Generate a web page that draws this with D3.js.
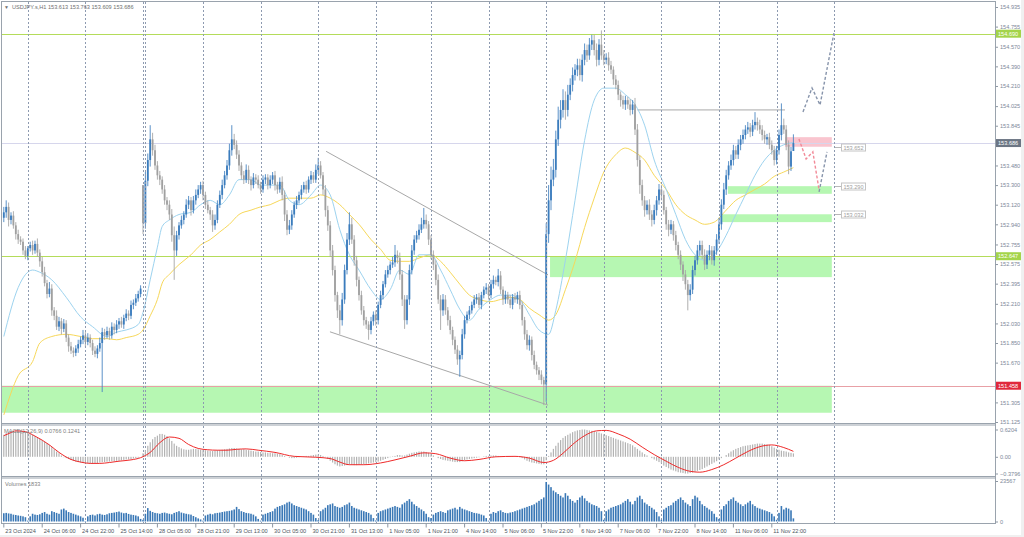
<!DOCTYPE html>
<html><head><meta charset="utf-8">
<script src="https://cdn.jsdelivr.net/npm/d3@7"></script>
<style>body{margin:0;background:#f0f0f0}svg{display:block}text{font-family:"Liberation Sans",Arial,sans-serif}</style>
</head><body><svg id="c" width="1024" height="537"></svg>
<script>
// ---------------- DATA ----------------
const closes = [
153.05,153.10,152.98,153.02,152.93,152.85,152.80,152.78,152.70,152.65,
152.72,152.75,152.70,152.76,152.68,152.60,152.50,152.40,152.30,152.35,
152.15,152.10,152.00,152.05,151.98,152.03,151.90,151.82,151.78,151.76,
151.80,151.84,151.88,151.92,151.86,151.90,151.85,151.78,151.75,151.80,
151.85,151.95,151.92,151.96,151.92,152.00,151.97,152.02,152.05,152.02,
152.08,152.12,152.10,152.20,152.22,152.26,152.30,152.35,152.95,153.34,
153.53,153.72,153.62,153.48,153.39,153.35,153.26,153.16,153.12,153.03,
152.84,152.70,152.84,152.93,152.98,153.03,153.12,153.16,153.07,153.16,
153.21,153.26,153.30,153.21,153.12,153.07,153.03,152.93,152.98,153.12,
153.21,153.30,153.39,153.48,153.62,153.72,153.67,153.58,153.48,153.39,
153.35,153.44,153.35,153.30,153.37,153.35,153.30,153.26,153.35,153.37,
153.30,153.35,153.39,153.30,153.26,153.33,153.21,153.03,152.89,152.93,
153.03,153.12,153.16,153.21,153.26,153.30,153.26,153.35,153.39,153.35,
153.44,153.48,153.39,153.26,153.07,152.93,152.70,152.52,152.29,152.15,
152.06,152.25,152.52,152.80,152.94,152.80,152.61,152.43,152.29,152.15,
152.06,152.02,151.97,152.05,152.11,152.06,152.20,152.29,152.39,152.48,
152.52,152.57,152.59,152.66,152.63,152.48,152.25,152.06,152.25,152.52,
152.70,152.80,152.84,152.89,152.94,152.98,152.94,152.80,152.66,152.57,
152.43,152.25,152.15,152.25,152.15,152.06,151.97,151.88,151.79,151.70,
151.74,151.93,152.06,152.11,152.15,152.20,152.25,152.27,152.20,152.29,
152.34,152.36,152.29,152.39,152.43,152.41,152.47,152.34,152.25,152.29,
152.25,152.20,152.27,152.25,152.29,152.20,152.06,151.93,151.83,151.88,
151.74,151.65,151.60,151.56,151.51,151.47,152.85,153.16,153.35,153.44,
153.72,153.90,153.99,154.08,153.99,154.13,154.22,154.31,154.36,154.40,
154.31,154.45,154.54,154.49,154.59,154.63,154.54,154.45,154.59,154.49,
154.45,154.47,154.40,154.36,154.27,154.22,154.13,154.08,154.04,154.08,
154.04,153.99,154.04,153.81,153.53,153.30,153.16,153.07,153.12,153.03,
152.98,153.07,153.16,153.26,153.21,153.07,152.94,152.89,152.94,152.84,
152.75,152.66,152.57,152.48,152.39,152.29,152.34,152.52,152.61,152.70,
152.75,152.66,152.57,152.66,152.70,152.61,152.70,152.80,152.94,153.12,
153.26,153.39,153.48,153.53,153.62,153.58,153.67,153.72,153.76,153.81,
153.83,153.79,153.85,153.88,153.85,153.81,153.76,153.72,153.74,153.67,
153.62,153.53,153.62,153.76,153.85,153.81,153.67,153.47,153.61,153.686];
// opens that differ from the previous close: [bar, open]
const gapOpens = [[0,153.00],[58,153.30],[329,153.613]];
// upper / lower shadow lengths in hundredths of a yen
const upWick = [
5,6,4,3,4,3,4,3,3,4, 2,3,4,3,5,3,4,5,3,6, 4,3,5,4,3,4,3,3,4,3, 3,4,3,5,3,4,3,3,4,3,
5,4,3,4,3,4,3,4,3,4, 3,4,3,4,3,4,3,3,0,8, 6,13,6,5,4,4,3,4,3,4, 5,8,4,3,4,3,5,4,3,4,
5,4,3,4,3,4,3,4,5,4, 4,5,4,5,6,13,5,4,4,3, 4,5,4,3,4,3,4,3,4,3, 3,4,3,4,3,4,5,4,4,5,
4,3,4,3,4,3,4,3,4,3, 5,7,4,3,4,4,4,5,4,3, 5,6,5,6,11,6,4,4,3,4, 4,3,3,4,3,4,3,4,3,4,
4,3,5,9,4,5,4,4,4,5, 5,4,4,5,6,11,5,3,4,4, 4,5,4,5,4,3,4,3,3,4, 4,5,4,3,4,3,4,3,4,3,
3,4,3,4,4,3,6,4,3,4, 3,4,3,4,3,4,3,3,4,4, 3,4,3,3,4,3,10,14,12,10, 8,12,9,10,8,9,6,7,5,6,
6,5,6,5,6,5,5,6,5,13, 5,4,5,4,3,4,4,3,4,4, 3,5,4,6,5,4,5,4,4,5, 4,5,4,5,4,4,3,4,4,3,
4,3,4,3,4,4,5,4,4,5, 4,4,5,4,5,4,4,5,6,5, 6,5,4,5,5,4,5,4,5,4, 5,4,5,9,4,5,4,4,3,4,
4,4,4,5,20,6,4,4,4,8];
const dnWick = [
4,5,6,4,3,5,4,3,4,3, 4,3,4,3,4,5,4,3,4,3, 5,4,3,4,5,3,4,5,3,4, 3,4,3,4,5,3,4,4,3,4,
3,45,4,3,4,3,4,3,4,3, 4,3,4,3,4,3,3,3,10,5, 5,6,5,4,4,5,4,4,5,5, 6,27,5,4,3,4,3,4,5,3,
4,3,4,5,4,3,5,6,4,3, 3,4,3,4,4,5,4,4,5,4, 4,3,4,5,3,4,3,4,3,4, 4,3,4,5,4,3,5,6,5,4,
4,3,4,3,4,3,4,3,4,3, 3,4,3,5,6,5,6,5,6,7, 13,5,4,4,5,4,5,6,5,4, 5,4,9,4,4,5,4,3,4,3,
3,4,3,4,5,5,6,8,4,5, 4,4,3,4,3,4,4,5,4,5, 5,4,18,5,4,5,4,5,4,5, 16,4,4,3,4,3,3,4,3,4,
3,4,4,3,4,3,4,4,5,4, 4,3,4,3,4,4,5,5,4,5, 5,4,4,5,4,19,16,8,9,6, 7,6,8,7,9,6,5,6,5,6,
5,6,5,6,4,5,5,6,5,4, 5,4,5,4,5,4,5,6,4,5, 4,5,4,5,6,8,5,6,4,5, 6,4,5,4,5,4,5,6,4,5,
5,4,5,6,5,14,5,4,5,4, 5,4,5,4,5,4,5,4,4,5, 4,5,4,4,5,4,4,5,4,4, 4,5,4,4,5,4,5,4,5,4,
4,5,4,4,5,4,5,7,4,0];
const volumes = [
4800,5000,4700,4500,4000,3800,3500,3300,3000,2500,
500,3000,4500,4000,3800,4200,5000,5500,4500,4000,6000,5500,5000,4500,7000,7500,6500,5500,5000,4500,4000,3500,3000,2200,
300,3000,3800,4000,3500,4200,4500,4000,3800,4200,4800,5000,5200,5500,5800,5200,4800,5000,4400,4000,3800,3500,3000,1500,
1000,
4500,7800,6200,5500,5000,4800,4500,5000,5200,4800,4500,4200,5000,5500,6000,5200,4800,4500,4200,4000,3200,2500,1800,1200,
500,3500,4000,4500,4200,4800,5000,5200,5500,5800,6000,6200,6500,7000,8500,7200,6000,5500,5000,4800,4500,4000,3000,1500,
500,4000,4500,5000,5500,6000,7500,8500,9000,9500,10000,11000,11500,10500,9500,9000,8500,8000,7500,7000,6000,5000,4000,2000,
800,6000,7000,8000,9500,10000,10500,9000,8500,8000,8500,9500,10000,11000,9000,8000,7500,7000,6500,6000,5500,5000,4000,2000,
600,5000,6000,6500,7000,7500,8000,8500,9000,8500,8000,10000,11000,12000,13000,11500,10000,9000,8000,7000,6000,4500,2500,
2000,4000,5000,5500,6000,5500,5000,6500,7000,7500,8000,7000,8500,7500,7000,6500,6000,5500,5000,4800,4500,4000,3500,2000,
500,4500,5500,5000,6000,6500,5500,5000,4800,5200,5500,6000,6500,7000,7500,8000,8500,9000,9500,10000,11000,12000,13000,14000,
23000,21500,20000,18000,17000,16000,15000,14000,16500,15000,13000,12000,11000,12500,14000,15000,13500,12000,11000,10000,9500,9000,8000,6000,
1000,6000,7000,8000,8500,9000,9500,10000,11000,12000,13000,11500,10000,12000,14000,15000,13000,11000,10000,9000,8000,7000,5500,3000,
1000,7000,8000,9000,9500,11000,12000,13000,14000,12500,11000,10000,9000,13000,15000,14000,12000,10000,9000,8000,7000,6000,4500,2500,
1500,7000,9000,10000,12000,13000,14000,12000,11000,10000,9000,10000,11000,12000,10000,9000,8000,7500,7000,6500,6000,5500,4500,3000,
1000,5000,9000,7000,8000,7500,6500,1833];
const macdMain = [
.50,.54,.57,.58,.59,.60,.60,.59,.58,.57,.55,.52,.50,.47,.44,.41,.38,.34,.31,.27,
.22,.17,.12,.08,.03,-.01,-.03,-.05,-.07,-.09,-.11,-.12,-.13,-.14,-.14,-.14,-.15,-.15,-.14,-.14,
-.13,-.12,-.12,-.11,-.11,-.10,-.10,-.09,-.09,-.08,-.07,-.06,-.06,-.05,-.04,-.03,-.02,0,.08,.15,
.25,.33,.40,.45,.48,.52,.52,.50,.47,.42,.36,.30,.25,.22,.19,.17,.16,.16,.17,.18,
.18,.17,.16,.15,.15,.14,.13,.13,.14,.15,.15,.16,.17,.18,.19,.20,.20,.19,.18,.17,
.17,.16,.15,.14,.13,.12,.12,.11,.10,.10,.09,.09,.08,.08,.07,.06,.04,.02,0,-.02,
-.03,-.03,-.02,-.01,0,.01,.02,.02,.03,.04,.05,.05,.04,.02,-.01,-.05,-.09,-.13,-.17,-.20,
-.22,-.21,-.20,-.19,-.18,-.18,-.19,-.19,-.18,-.17,-.17,-.16,-.15,-.14,-.13,-.12,-.11,-.09,-.07,-.05,
-.03,-.01,.01,.02,.04,.04,.03,.03,.05,.07,.09,.10,.11,.12,.12,.12,.11,.09,.06,.03,
0,-.03,-.05,-.07,-.08,-.09,-.10,-.11,-.12,-.12,-.12,-.10,-.08,-.06,-.05,-.04,-.03,-.02,-.01,0,
.01,.02,.02,.03,.03,.03,.02,.01,.01,.01,.01,.01,.01,0,0,-.01,-.03,-.06,-.09,-.11,
-.13,-.14,-.15,-.16,-.17,-.17,-.08,.02,.10,.18,.25,.32,.38,.43,.47,.50,.53,.56,.58,.60,
.61,.62,.62,.61,.60,.59,.58,.57,.55,.53,.51,.49,.47,.45,.43,.41,.39,.37,.35,.33,
.31,.29,.26,.22,.18,.14,.10,.06,.03,0,-.03,-.06,-.09,-.12,-.15,-.20,-.23,-.26,-.29,-.31,
-.33,-.35,-.36,-.37,-.38,-.38,-.37,-.36,-.34,-.32,-.30,-.28,-.25,-.22,-.19,-.16,-.13,-.10,-.06,-.03,
0,.04,.08,.12,.15,.18,.20,.22,.24,.25,.26,.27,.28,.29,.30,.30,.30,.29,.28,.27,
.24,.21,.18,.16,.14,.13,.12,.10,.09,.0766];
const signalBars = [0,3,5,9,13,19,23,28,32,36,40,44,48,53,57,61,65,69,73,77,81,85,89,93,97,101,106,113,121,130,136,140,144,150,157,163,169,175,180,186,192,198,205,213,219,225,229,233,237,242,247,251,256,261,266,271,276,281,286,290,295,300,305,310,315,320,325,329];
const signalVals = [.48,.55,.59,.57,.47,.27,.10,-.06,-.12,-.15,-.15,-.13,-.10,-.07,-.02,.10,.32,.45,.42,.28,.19,.16,.15,.15,.17,.18,.15,.10,.01,-.01,-.04,-.12,-.18,-.18,-.14,-.07,.01,.09,.07,-.03,-.09,-.06,0,.01,-.03,-.13,-.08,.08,.28,.48,.59,.60,.52,.40,.22,.05,-.10,-.24,-.33,-.35,-.29,-.18,-.03,.12,.23,.27,.21,.1241];
const maBars = [0,6,12,15,20,26,32,37,43,47,51,56,58,61,64,66,69,73,78,82,86,90,94,98,103,107,111,115,119,123,128,132,136,140,144,148,153,157,161,165,169,173,178,182,186,190,194,198,203,207,211,215,219,223,227,230,234,238,242,246,250,255,259,263,267,271,276,280,284,288,292,296,301,305,309,313,317,321,325,329];
const maFast = [151.91,152.36,152.52,152.50,152.43,152.27,152.09,152.00,151.91,151.95,151.97,152.02,152.13,152.43,152.73,152.92,152.98,153.03,153.05,153.12,153.16,153.12,153.21,153.35,153.35,153.30,153.30,153.30,153.16,153.12,153.21,153.30,153.21,152.89,152.66,152.52,152.34,152.25,152.34,152.52,152.48,152.66,152.66,152.52,152.34,152.16,152.06,152.16,152.25,152.29,152.29,152.25,152.11,151.97,151.93,152.15,152.61,153.16,153.71,154.08,154.19,154.19,154.13,154.04,153.85,153.53,153.26,153.03,152.80,152.66,152.61,152.66,152.84,153.03,153.21,153.39,153.53,153.62,153.67,153.69];
const maSlow = [151.19,151.55,151.68,151.85,151.91,151.93,151.91,151.89,151.89,151.88,151.90,151.93,151.97,152.10,152.25,152.40,152.48,152.57,152.66,152.75,152.80,152.87,152.94,153.03,153.07,153.10,153.12,153.16,153.18,153.18,153.18,153.21,153.18,153.12,153.03,152.94,152.80,152.71,152.61,152.60,152.60,152.63,152.66,152.60,152.50,152.39,152.29,152.25,152.23,152.25,152.27,152.25,152.17,152.11,152.06,152.11,152.34,152.60,152.91,153.18,153.42,153.58,153.64,153.60,153.53,153.39,153.26,153.12,153.03,152.98,152.94,152.96,153.07,153.16,153.21,153.26,153.31,153.38,153.42,153.46];
const priceTicks = [154.935,154.755,154.570,154.390,154.210,154.025,153.845,153.480,153.300,153.120,152.940,152.755,152.575,152.395,152.210,152.030,151.850,151.670,151.305,151.125];
const timeLabels = ["23 Oct 2024","24 Oct 06:00","24 Oct 22:00","25 Oct 14:00","28 Oct 05:00","28 Oct 21:00","29 Oct 13:00","30 Oct 05:00","30 Oct 21:00","31 Oct 13:00","1 Nov 05:00","1 Nov 21:00","4 Nov 14:00","5 Nov 06:00","5 Nov 22:00","6 Nov 14:00","7 Nov 06:00","7 Nov 22:00","8 Nov 14:00","11 Nov 06:00","11 Nov 22:00"];
const timeLabelBars = [0,16,32,48,64,80,96,112,128,144,160,176,192,208,224,240,256,272,288,304,320];
const daySeparatorBars = [10,34,58,59,83,107,131,155,178,202,226,250,274,298,322,346];
// horizontal levels
const levelGreen = [154.690,152.647];
const levelRed = 151.458;
const lastPrice = 153.686;
// zones: [barFrom, barTo, priceTop, priceBottom]
const greenZones = [[-0.75,345,151.458,151.21],[227.6,345,152.647,152.455],[301.7,345,153.290,153.220],[299.3,345,153.032,152.960]];
const pinkZone = [325.5,345,153.740,153.652];
const zoneLabels = [153.652,153.290,153.032];
const channelUpper = [[134.3,153.61],[226.75,152.476]];
const channelLower = [[135.9,151.953],[226.75,151.28]];
const resistanceSeg = [[264,153.99],[325.5,153.99]];
const forecastRed = [[331.3,153.724],[334.3,153.54],[337.1,153.605],[339.7,153.256]];
const forecastBack = [[339.7,153.238],[343,153.605]];
const forecastUp = [[333,153.972],[336.75,154.192],[340.1,154.036],[345.9,154.696]];
const macdTicks = [0.6204,0,-0.3796];
const volTicks = [23567,0];

// ---------------- DRAW ----------------
const svg = d3.select("#c");
svg.append("rect").attr("width",1024).attr("height",537).attr("fill","#f0f0f0");
svg.append("rect").attr("width",1021).attr("height",535).attr("fill","#fff");

const x = d3.scaleLinear().domain([0,345]).range([3.8,831.8]);
const y = d3.scaleLinear().domain([151.125,154.935]).range([422,7]);
const yM = d3.scaleLinear().domain([-0.3796,0.6204]).range([473.5,429.5]);
const yV = d3.scaleLinear().domain([0,23567]).range([521.5,481]);

const defs = svg.append("defs");
function clip(id,y0,y1){defs.append("clipPath").attr("id",id).append("rect").attr("x",2).attr("y",y0).attr("width",993).attr("height",y1-y0);}
clip("cm",2,423); clip("cd",425.5,476.5); clip("cv",478.5,523);

const main = svg.append("g").attr("clip-path","url(#cm)");
// zones
main.selectAll(".gz").data(greenZones).join("rect")
  .attr("x",d=>x(d[0])).attr("width",d=>x(d[1])-x(d[0]))
  .attr("y",d=>y(d[2])).attr("height",d=>y(d[3])-y(d[2])).attr("fill","#b6f7b2");
main.append("rect").attr("x",x(pinkZone[0])).attr("width",x(pinkZone[1])-x(pinkZone[0]))
  .attr("y",y(pinkZone[2])).attr("height",y(pinkZone[3])-y(pinkZone[2])).attr("fill","#f9c5cf");

// day separators (all panels)
svg.append("g").selectAll("line").data(daySeparatorBars).join("line")
  .attr("x1",d=>Math.round(x(d))+0.5).attr("x2",d=>Math.round(x(d))+0.5).attr("y1",2).attr("y2",523)
  .attr("stroke","#8d9ab0").attr("stroke-width",1).attr("stroke-dasharray","2,2");

// horizontal levels
function hline(p,col,w){main.append("line").attr("x1",2).attr("x2",995).attr("y1",Math.round(y(p))+0.5).attr("y2",Math.round(y(p))+0.5).attr("stroke",col).attr("stroke-width",w||1);}
hline(lastPrice,"#d6d6ec");
levelGreen.forEach(p=>hline(p,"#b4dc5a"));
hline(levelRed,"#e8a0a6");

const line = d3.line().x(d=>x(d[0])).y(d=>y(d[1]));
main.append("path").attr("d",line(resistanceSeg)).attr("stroke","#a8a8a8").attr("fill","none");
main.append("path").attr("d",line(channelUpper)).attr("stroke","#a8a8a8").attr("fill","none");
main.append("path").attr("d",line(channelLower)).attr("stroke","#a8a8a8").attr("fill","none");

// zone labels
zoneLabels.forEach(p=>{
  const yy=Math.round(y(p))+0.5;
  main.append("line").attr("x1",835).attr("x2",841).attr("y1",yy).attr("y2",yy).attr("stroke","#b8b8b8");
  main.append("rect").attr("x",841.5).attr("y",yy-3.5).attr("width",24).attr("height",7).attr("fill","#fff").attr("stroke","#c4c4c4");
  main.append("text").attr("x",853.5).attr("y",yy+2).attr("text-anchor","middle").attr("font-size",5.6).attr("fill","#a0a0a0").text(p.toFixed(3));
});

// moving averages
const maLine = d3.line().curve(d3.curveMonotoneX).x(d=>x(d[0])).y(d=>y(d[1]));
main.append("path").attr("d",maLine(maBars.map((b,i)=>[b,maSlow[i]]))).attr("stroke","#f7d85a").attr("fill","none").attr("stroke-width",1);
main.append("path").attr("d",maLine(maBars.map((b,i)=>[b,maFast[i]]))).attr("stroke","#9dd3ef").attr("fill","none").attr("stroke-width",1);

// candles
const gapMap = new Map(gapOpens);
const bars = closes.map((c,i)=>{
  const o = gapMap.has(i)?gapMap.get(i):closes[i-1];
  const hi = Math.max(o,c)+upWick[i]/100, lo = Math.min(o,c)-dnWick[i]/100;
  return {i,o,c,hi,lo};
});
const cg = main.append("g");
cg.selectAll("line").data(bars).join("line")
  .attr("x1",d=>x(d.i)).attr("x2",d=>x(d.i)).attr("y1",d=>y(d.hi)).attr("y2",d=>y(d.lo))
  .attr("stroke",d=>d.c>=d.o?"#4a86c2":"#a6a6a6").attr("stroke-width",0.9);
cg.selectAll("rect").data(bars).join("rect")
  .attr("x",d=>x(d.i)-0.9).attr("width",1.8)
  .attr("y",d=>y(Math.max(d.o,d.c))).attr("height",d=>Math.max(0.8,Math.abs(y(d.o)-y(d.c))))
  .attr("fill",d=>d.c>=d.o?"#3b7cbd":"#a0a0a0");

// forecast dashed paths
main.append("path").attr("d",line(forecastRed)).attr("stroke","#f28a98").attr("stroke-width",1.4).attr("stroke-dasharray","3,2").attr("fill","none");
main.append("path").attr("d",line(forecastBack)).attr("stroke","#8794ab").attr("stroke-width",1.4).attr("stroke-dasharray","3,2").attr("fill","none");
main.append("path").attr("d",line(forecastUp)).attr("stroke","#8794ab").attr("stroke-width",1.4).attr("stroke-dasharray","3,2").attr("fill","none");

// MACD panel
const md = svg.append("g").attr("clip-path","url(#cd)");
md.selectAll("rect").data(macdMain).join("rect")
  .attr("x",(d,i)=>x(i)-0.6).attr("width",1.2)
  .attr("y",d=>Math.min(yM(d),yM(0))).attr("height",d=>Math.abs(yM(d)-yM(0)))
  .attr("fill","#b3b3b3");
md.append("path").attr("d",d3.line().curve(d3.curveMonotoneX).x(d=>x(d[0])).y(d=>yM(d[1]))(signalBars.map((b,i)=>[b,signalVals[i]])))
  .attr("stroke","#ee2a2a").attr("fill","none").attr("stroke-width",1);

// volumes
const vg = svg.append("g").attr("clip-path","url(#cv)");
vg.selectAll("rect").data(volumes).join("rect")
  .attr("x",(d,i)=>x(i)-0.8).attr("width",1.6)
  .attr("y",d=>yV(d)).attr("height",d=>yV(0)-yV(d)).attr("fill","#3a78b6");

// frame
const fc="#9aa3ad";
const fr = svg.append("g").attr("stroke",fc).attr("fill","none");
fr.append("line").attr("x1",1).attr("x2",996).attr("y1",1.5).attr("y2",1.5);
fr.append("line").attr("x1",1.5).attr("x2",1.5).attr("y1",1).attr("y2",524);
fr.append("line").attr("x1",995.5).attr("x2",995.5).attr("y1",1).attr("y2",524);
[423.5,425,476.5,478,523.5].forEach(v=>fr.append("line").attr("x1",1).attr("x2",996).attr("y1",v).attr("y2",v));

// axes
function styleAxis(g,col){g.select(".domain").remove();g.selectAll("line").attr("stroke","#8d97a3");g.selectAll("text").attr("font-size",5.6).attr("fill",col).attr("font-family","Liberation Sans, Arial, sans-serif");}
svg.append("g").attr("transform","translate(995.5,0)")
  .call(d3.axisRight(y).tickValues(priceTicks).tickFormat(d3.format(".3f")).tickSize(2.5).tickPadding(2))
  .call(g=>styleAxis(g,"#7d8899"));
svg.append("g").attr("transform","translate(995.5,0)")
  .call(d3.axisRight(yM).tickValues(macdTicks).tickFormat(d=>d===0?"0.00":d3.format(".4f")(d)).tickSize(2.5).tickPadding(2))
  .call(g=>styleAxis(g,"#7d8899"));
svg.append("g").attr("transform","translate(995.5,0)")
  .call(d3.axisRight(yV).tickValues(volTicks).tickFormat(d3.format("d")).tickSize(2.5).tickPadding(2))
  .call(g=>styleAxis(g,"#7d8899"));
svg.append("g").attr("transform","translate(0,523.5)")
  .call(d3.axisBottom(x).tickValues(timeLabelBars).tickFormat((d,i)=>timeLabels[i]).tickSize(4).tickPadding(2))
  .call(g=>{styleAxis(g,"#4d5560");g.selectAll("text").attr("text-anchor","start").attr("dx",1);g.selectAll(".tick line").attr("transform","translate(-0.5,0)");});

// price tags on axis
function tag(p,bg){
  const yy=y(p);
  svg.append("rect").attr("x",996).attr("y",yy-4).attr("width",25).attr("height",8).attr("fill",bg);
  svg.append("text").attr("x",998).attr("y",yy+2).attr("font-size",5.6).attr("fill","#fff").text(p.toFixed(3));
}
levelGreen.forEach(p=>tag(p,"#a4d44a"));
tag(lastPrice,"#6c7684");
tag(levelRed,"#e0283c");

// captions
svg.append("text").attr("x",4).attr("y",9).attr("font-size",5).attr("fill","#707070").text("\u25BC");
svg.append("text").attr("x",12).attr("y",9).attr("font-size",5.6).attr("fill","#707070").text("USDJPY.s,H1  153.613 153.763 153.609 153.686");
svg.append("text").attr("x",4).attr("y",433).attr("font-size",5.6).attr("fill","#808080").text("MACD(12,26,9) 0.0766 0.1241");
svg.append("text").attr("x",5).attr("y",486).attr("font-size",5.6).attr("fill","#808080").text("Volumes 1833");
</script></body></html>
